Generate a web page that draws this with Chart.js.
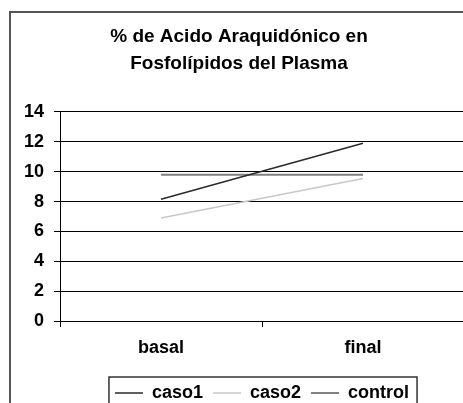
<!DOCTYPE html>
<html>
<head>
<meta charset="utf-8">
<script src="https://cdn.jsdelivr.net/npm/chart.js@4"></script>
<style>
  html, body { margin: 0; padding: 0; background: #fff; overflow: hidden; }
  #marco { position: absolute; left: 9px; top: 11px; width: 480px; height: 420px; border: 2px solid #555; }
  #wrap { position: absolute; left: 0; top: 0; width: 466px; height: 412px; }
</style>
</head>
<body>
<div id="marco"></div>
<div id="wrap"><canvas id="grafico"></canvas></div>
<script>
// datos
const categorias = ['basal', 'final'];
const caso1 = [8.15, 11.9];
const caso2 = [6.9, 9.55];
const control = [9.8, 9.8];
const ticksY = [0, 2, 4, 6, 8, 10, 12, 14];

// recuadro alrededor de la leyenda
const marcoLeyenda = {
    id: 'marcoLeyenda',
    afterDraw(chart) {
        const cajas = chart.legend.legendHitBoxes;
        if (!cajas || !cajas.length) return;
        const izq = Math.min(...cajas.map(c => c.left)) - 6;
        const der = Math.max(...cajas.map(c => c.left + c.width)) + 8;
        const arriba = cajas[0].top - 7;
        const ctx = chart.ctx;
        ctx.save();
        ctx.strokeStyle = '#333';
        ctx.lineWidth = 1.5;
        ctx.strokeRect(izq, arriba, der - izq, 60);
        ctx.restore();
    }
};

const ctx = document.getElementById('grafico').getContext('2d');
new Chart(ctx, {
    type: 'line',
    data: {
        labels: categorias,
        datasets: [
            { label: 'caso1', data: caso1, borderColor: '#2a2a2a', backgroundColor: '#2a2a2a', borderWidth: 1.5, pointRadius: 0 },
            { label: 'caso2', data: caso2, borderColor: '#c8c8c8', backgroundColor: '#c8c8c8', borderWidth: 1.5, pointRadius: 0 },
            { label: 'control', data: control, borderColor: '#808080', backgroundColor: '#808080', borderWidth: 2, pointRadius: 0 }
        ]
    },
    options: {
        responsive: true,
        maintainAspectRatio: false,
        animation: false,
        layout: { padding: { left: 14, right: 2, top: 0, bottom: 0 } },
        plugins: {
            title: {
                display: true,
                text: ['% de Acido Araquidónico en', 'Fosfolípidos del Plasma'],
                color: '#000',
                font: { family: 'Arial, "Liberation Sans"', size: 19, weight: 'bold', lineHeight: 1.42 },
                padding: { top: 23, bottom: 35 }
            },
            legend: {
                position: 'bottom',
                fullSize: false,
                labels: {
                    usePointStyle: true,
                    pointStyle: 'line',
                    pointStyleWidth: 28,
                    color: '#000',
                    padding: 10,
                    font: { family: 'Arial, "Liberation Sans"', size: 18, weight: 'bold' }
                }
            },
            tooltip: { enabled: false }
        },
        scales: {
            x: {
                offset: true,
                grid: { offset: true, drawOnChartArea: false, drawTicks: true, tickLength: 6, color: '#000' },
                border: { display: true, color: '#000', width: 1 },
                ticks: {
                    color: '#000',
                    padding: 10,
                    font: { family: 'Arial, "Liberation Sans"', size: 18, weight: 'bold' }
                },
                afterFit(scale) { scale.height = 53; }
            },
            y: {
                min: 0,
                max: 14,
                afterBuildTicks(scale) { scale.ticks = ticksY.map(v => ({ value: v })); },
                grid: { color: '#000', lineWidth: 1, tickLength: 6 },
                border: { display: true, color: '#000', width: 1 },
                ticks: {
                    color: '#000',
                    padding: 10,
                    font: { family: 'Arial, "Liberation Sans"', size: 18, weight: 'bold' }
                },
                afterFit(scale) { scale.width = 46; }
            }
        }
    },
    plugins: [marcoLeyenda]
});
</script>
</body>
</html>
